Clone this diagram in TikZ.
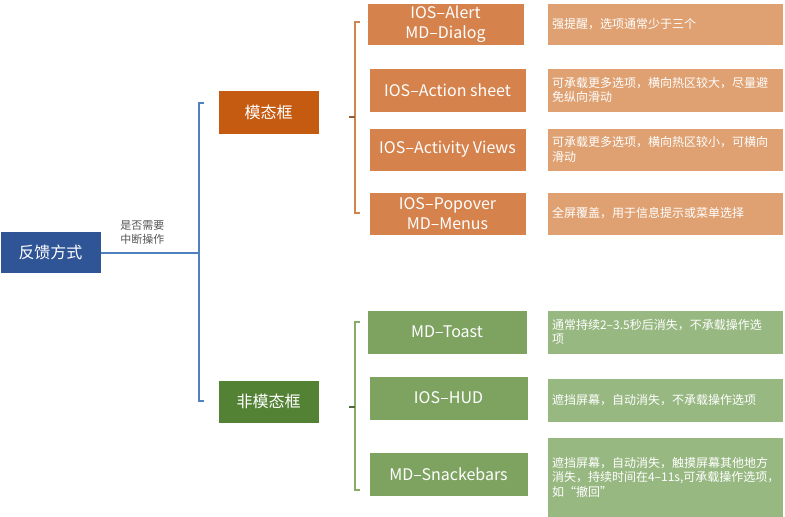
\documentclass[tikz,border=0pt]{standalone}
\usepackage{fontspec}
\setmainfont{Noto Sans CJK SC}
\XeTeXlinebreaklocale "zh"
\XeTeXlinebreakskip = 0pt plus 1pt
\definecolor{rootblue}{HTML}{2F5597}
\definecolor{modal}{HTML}{C55A11}
\definecolor{nonmodal}{HTML}{548235}
\definecolor{ochild}{HTML}{D5824D}
\definecolor{odesc}{HTML}{DFA172}
\definecolor{gchild}{HTML}{7EA361}
\definecolor{gdesc}{HTML}{98B882}
\definecolor{bbrk}{HTML}{4F81C0}
\definecolor{obrk}{HTML}{D0854F}
\definecolor{gbrk}{HTML}{87AD6A}
\definecolor{lblgray}{HTML}{555555}
\tikzset{
  box/.style={rectangle, draw=white, line width=0.6pt, text=white, inner sep=0pt, align=center},
  rootbox/.style={box, fill=rootblue, minimum width=101pt, minimum height=42pt, font=\fontsize{16}{18}\selectfont},
  midbox/.style={box, minimum width=101pt, minimum height=44pt, font=\fontsize{16}{18}\selectfont},
  childbox/.style={box, minimum width=157pt, minimum height=44pt, font=\fontsize{16}{20}\selectfont},
  descbox/.style={box, minimum width=236pt, text width=226pt, align=left, font=\fontsize{12}{14.5}\selectfont},
  brk/.style={line width=1.1pt},
  lbl/.style={text=lblgray, font=\fontsize{11}{14}\selectfont, align=left, inner sep=0pt}
}
\begin{document}
\begin{tikzpicture}[x=1pt,y=-1pt]
\useasboundingbox (0,0) rectangle (785,517);

% root and second level
\node[rootbox] (root) at (50.5,252) {反馈方式};
\node[midbox, fill=modal] (modal) at (268.5,112) {模态框};
\node[midbox, fill=nonmodal, minimum height=43pt] (nonmodal) at (268.5,401.5) {非模态框};

% blue bracket
\coordinate (bt) at (204,103);
\coordinate (btl) at (199,103);
\coordinate (bm) at (199,253);
\coordinate (bbl) at (199,401);
\coordinate (bb) at (204,401);
\draw[bbrk, brk] (bt) -- (btl) -- (bbl) -- (bb);
\draw[bbrk, brk] (root.east |- bm) -- node[lbl, anchor=south, pos=0.42, yshift=8pt] (lab) {是否需要\\中断操作} (bm);

% orange children
\node[childbox, fill=ochild, minimum height=42pt] (c1) at (445.5,24) {IOS–Alert\\MD–Dialog};
\node[childbox, fill=ochild] (c2) at (447.5,90) {IOS–Action sheet};
\node[childbox, fill=ochild, minimum height=43pt] (c3) at (447.5,149.5) {IOS–Activity Views};
\node[childbox, fill=ochild, minimum height=43pt] (c4) at (447.5,213.5) {IOS–Popover\\MD–Menus};

\node[descbox, fill=odesc, minimum height=42pt] (d1) at (665,24) {强提醒，选项通常少于三个};
\node[descbox, fill=odesc, minimum height=44pt] (d2) at (665,90) {可承载更多选项，横向热区较大，尽量避\\免纵向滑动};
\node[descbox, fill=odesc, minimum height=43pt] (d3) at (665,149.5) {可承载更多选项，横向热区较小，可横向\\滑动};
\node[descbox, fill=odesc, minimum height=43pt] (d4) at (665,213.5) {全屏覆盖，用于信息提示或菜单选择};

% orange bracket
\coordinate (ot) at (360,22);
\coordinate (otl) at (355,22);
\coordinate (obl) at (355,213);
\coordinate (ob) at (360,213);
\coordinate (om) at (355,117);
\coordinate (omt) at (349,117);
\draw[obrk, brk] (ot) -- (otl) -- (obl) -- (ob);
\draw[obrk!70!black, brk] (omt) -- (om);

% green children
\node[childbox, fill=gchild, minimum width=160pt] (g1) at (447,332) {MD–Toast};
\node[childbox, fill=gchild, minimum width=159pt] (g2) at (448.5,398) {IOS–HUD};
\node[childbox, fill=gchild, minimum width=159pt] (g3) at (448.5,474) {MD–Snackebars};

\node[descbox, fill=gdesc, minimum height=44pt] (e1) at (665,332) {通常持续2–3.5秒后消失，不承载操作选\\项};
\node[descbox, fill=gdesc, minimum height=44pt] (e2) at (665,400) {遮挡屏幕，自动消失，不承载操作选项};
\node[descbox, fill=gdesc, minimum height=80pt] (e3) at (665,477) {遮挡屏幕，自动消失，触摸屏幕其他地方\\\mbox{消失，持续时间在4–11s,可承载操作选项，}\\如“撤回”};

% green bracket
\coordinate (gt) at (360,322);
\coordinate (gtl) at (355,322);
\coordinate (gbl) at (355,490);
\coordinate (gb) at (360,490);
\coordinate (gm) at (355,407);
\coordinate (gmt) at (349,407);
\draw[gbrk, brk] (gt) -- (gtl) -- (gbl) -- (gb);
\draw[gbrk!60!black, brk] (gmt) -- (gm);
\end{tikzpicture}
\end{document}
